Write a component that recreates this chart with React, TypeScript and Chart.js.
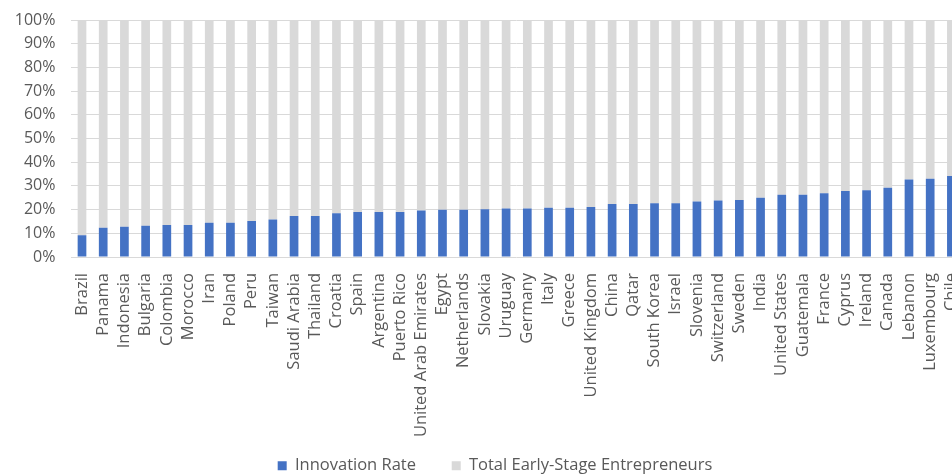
import React, { useEffect, useRef } from "react";
import { Chart, registerables } from "chart.js";

Chart.register(...registerables);

const countries = [
  "Brazil", "Panama", "Indonesia", "Bulgaria", "Colombia", "Morocco", "Iran", "Poland", "Peru", "Taiwan",
  "Saudi Arabia", "Thailand", "Croatia", "Spain", "Argentina", "Puerto Rico", "United Arab Emirates", "Egypt",
  "Netherlands", "Slovakia", "Uruguay", "Germany", "Italy", "Greece", "United Kingdom", "China", "Qatar",
  "South Korea", "Israel", "Slovenia", "Switzerland", "Sweden", "India", "United States", "Guatemala",
  "France", "Cyprus", "Ireland", "Canada", "Lebanon", "Luxembourg", "Chile",
];

const innovationRate = [
  9.2, 12.3, 12.8, 13.2, 13.5, 13.5, 14.5, 14.5, 15.2, 15.8,
  17.3, 17.3, 18.5, 19.0, 19.0, 19.0, 19.6, 19.9,
  19.9, 20.2, 20.5, 20.5, 20.8, 20.8, 21.1, 22.4, 22.4,
  22.7, 22.7, 23.4, 23.8, 24.1, 25.0, 26.3, 26.3,
  26.9, 27.9, 28.2, 29.2, 32.7, 33.0, 34.2,
];

const totalEarlyStage = [
  90.8, 87.7, 87.2, 86.8, 86.5, 86.5, 85.5, 85.5, 84.8, 84.2,
  82.7, 82.7, 81.5, 81.0, 81.0, 81.0, 80.4, 80.1,
  80.1, 79.8, 79.5, 79.5, 79.2, 79.2, 78.9, 77.6, 77.6,
  77.3, 77.3, 76.6, 76.2, 75.9, 75.0, 73.7, 73.7,
  73.1, 72.1, 71.8, 70.8, 67.3, 67.0, 65.8,
];

const seriesNames = ["Innovation Rate", "Total Early-Stage Entrepreneurs"];

const FONT = "'Open Sans', sans-serif";
const TEXT = "#595959";
const GAP = "\u00a0\u00a0\u00a0\u00a0\u00a0\u00a0";

const legendShift = {
  id: "legendShift",
  afterLayout(chart: any) {
    try {
      const l = chart.legend;
      if (l && typeof l.left === "number") {
        l.left += 14;
        l.right += 14;
      }
    } catch (e) {
      /* ignore */
    }
  },
};

export default function App() {
  const ref = useRef<HTMLCanvasElement | null>(null);

  useEffect(() => {
    if (!ref.current) return;
    const chart = new Chart(ref.current, {
      type: "bar",
      data: {
        labels: countries,
        datasets: [
          {
            label: seriesNames[0],
            data: innovationRate,
            backgroundColor: "#4472C4",
            barPercentage: 0.41,
            categoryPercentage: 1,
          },
          {
            label: seriesNames[1],
            data: totalEarlyStage,
            backgroundColor: "#D9D9D9",
            barPercentage: 0.41,
            categoryPercentage: 1,
          },
        ],
      },
      plugins: [legendShift],
      options: {
        animation: false,
        responsive: false,
        maintainAspectRatio: false,
        layout: { padding: { top: 20, right: 28, left: 0, bottom: 0 } },
        plugins: {
          legend: {
            position: "bottom",
            labels: {
              boxWidth: 9,
              boxHeight: 9,
              padding: 10,
              color: TEXT,
              font: { family: FONT, size: 16.5 },
              generateLabels: (c: any) => {
                const items = Chart.defaults.plugins.legend.labels.generateLabels(c);
                return items.map((it: any, i: number) => ({
                  ...it,
                  text: i === 0 ? it.text + GAP : it.text,
                  lineWidth: 0,
                }));
              },
            },
          },
          tooltip: { enabled: false },
        },
        scales: {
          x: {
            stacked: true,
            grid: { display: false },
            border: { display: false },
            ticks: {
              autoSkip: false,
              maxRotation: 90,
              minRotation: 90,
              padding: 8,
              color: TEXT,
              font: { family: FONT, size: 16.5 },
            },
            afterFit: (scale: any) => {
              scale.height = 190.5;
              scale.paddingLeft = 0;
              scale.paddingRight = 0;
            },
          },
          y: {
            stacked: true,
            min: 0,
            max: 100,
            grid: { color: "#D9D9D9", drawTicks: false, lineWidth: 1 },
            border: { display: false },
            ticks: {
              stepSize: 10,
              padding: 16,
              color: TEXT,
              font: { family: FONT, size: 16 },
              callback: (v: any) => v + "%",
            },
            afterFit: (scale: any) => {
              scale.width = 71.4;
              scale.paddingTop = 0;
              scale.paddingBottom = 0;
            },
          },
        },
      },
    });
    return () => chart.destroy();
  }, []);

  return (
    <div
      style={{
        position: "fixed",
        left: 0,
        top: 0,
        width: 952,
        height: 475,
        overflow: "hidden",
        background: "#fff",
      }}
    >
      <canvas ref={ref} width={990} height={484} style={{ width: 990, height: 484, display: "block" }} />
    </div>
  );
}
